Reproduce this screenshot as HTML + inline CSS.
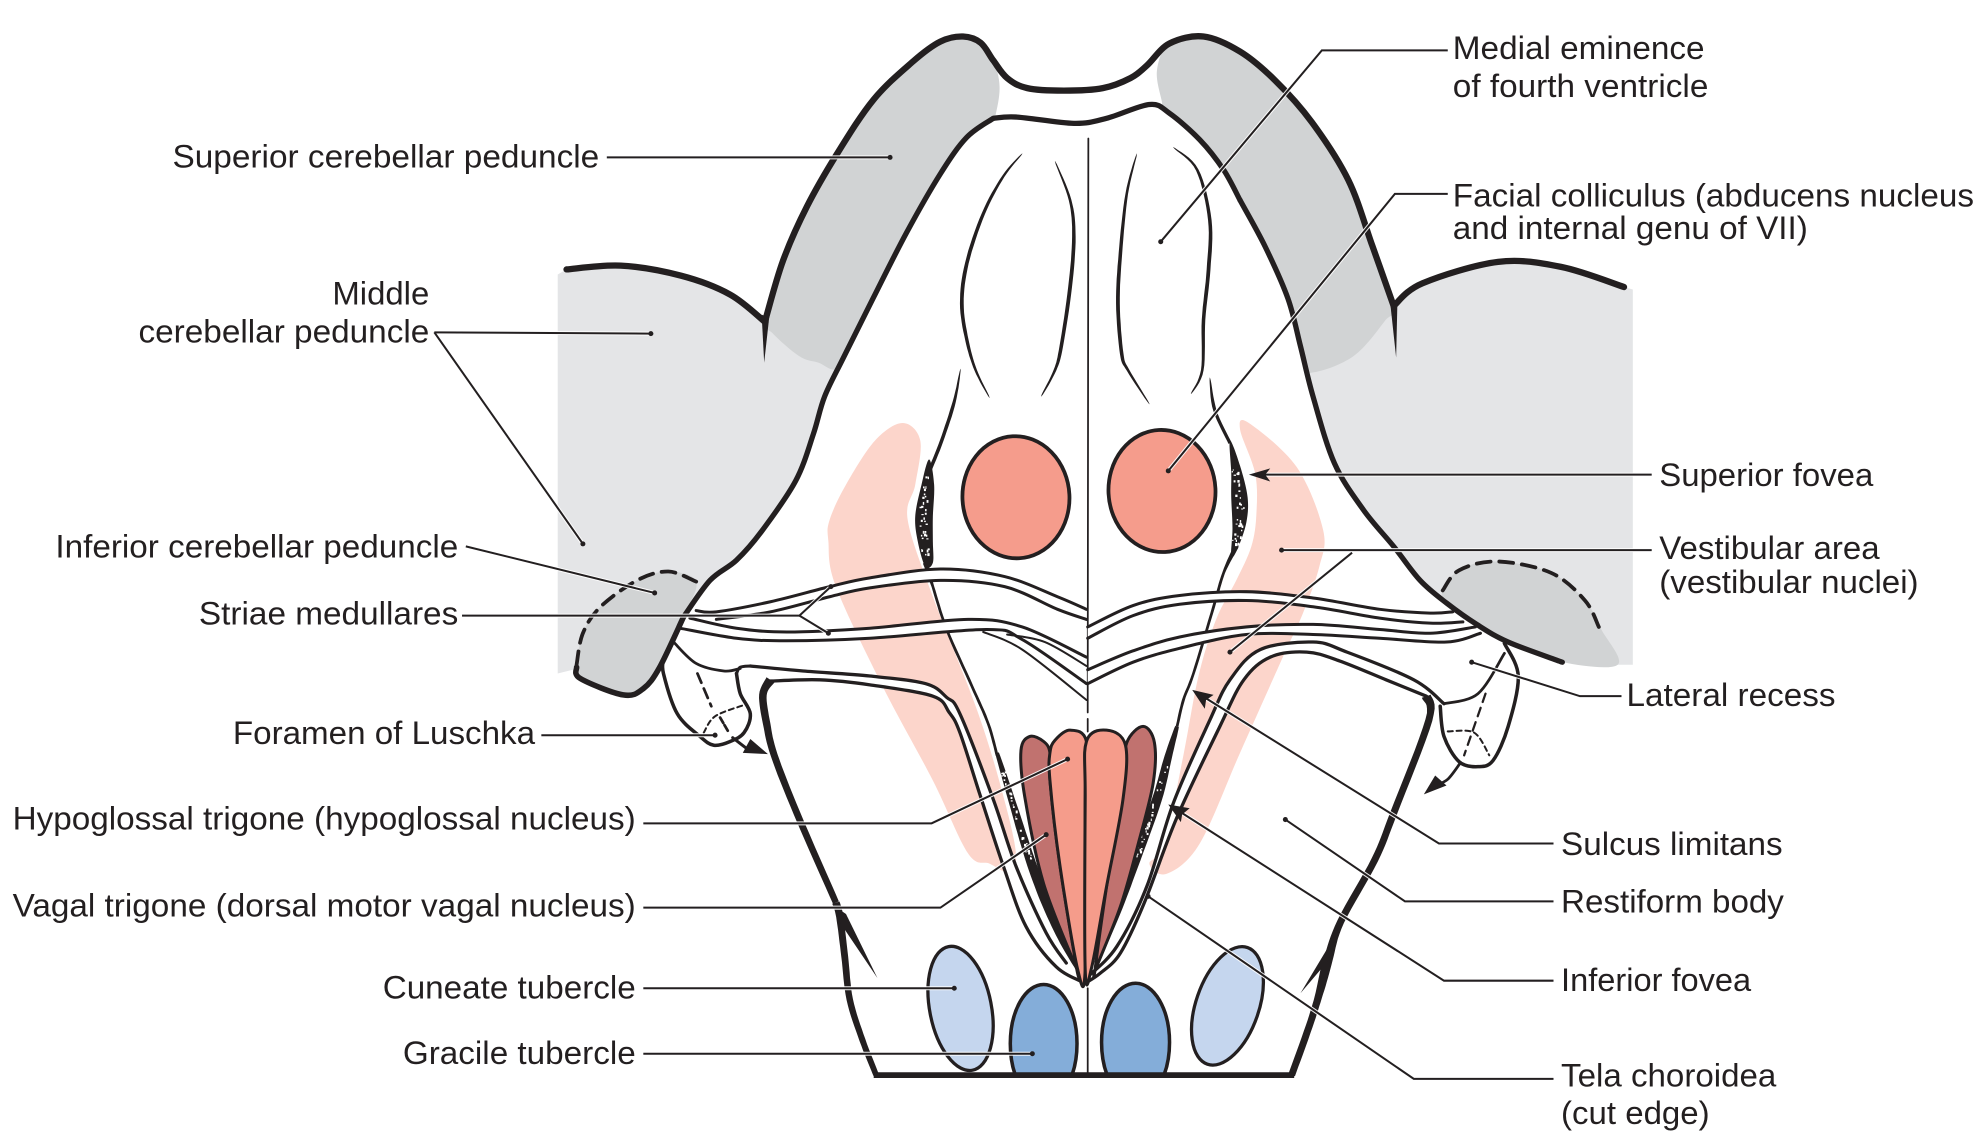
<!DOCTYPE html>
<html><head><meta charset="utf-8"><style>
html,body{margin:0;padding:0;background:#fff}
svg{display:block}
text{font-family:"Liberation Sans",sans-serif;font-size:26px;fill:#231f20}
</style></head><body>
<svg id="s" xmlns="http://www.w3.org/2000/svg" width="1974" height="1148" viewBox="0 0 1568 911.9">
<g id="art"></g>
<g>
<text x="1154" y="47" textLength="200" lengthAdjust="spacingAndGlyphs">Medial eminence</text>
<text x="1154" y="77" textLength="203" lengthAdjust="spacingAndGlyphs">of fourth ventricle</text>
<text x="1154" y="164" textLength="414" lengthAdjust="spacingAndGlyphs">Facial colliculus (abducens nucleus</text>
<text x="1154" y="190" textLength="282" lengthAdjust="spacingAndGlyphs">and internal genu of VII)</text>
<text x="137" y="133" textLength="339" lengthAdjust="spacingAndGlyphs">Superior cerebellar peduncle</text>
<text x="264" y="242" textLength="77" lengthAdjust="spacingAndGlyphs">Middle</text>
<text x="110" y="272" textLength="231" lengthAdjust="spacingAndGlyphs">cerebellar peduncle</text>
<text x="44" y="443" textLength="320" lengthAdjust="spacingAndGlyphs">Inferior cerebellar peduncle</text>
<text x="158" y="496" textLength="206" lengthAdjust="spacingAndGlyphs">Striae medullares</text>
<text x="185" y="591" textLength="240" lengthAdjust="spacingAndGlyphs">Foramen of Luschka</text>
<text x="10" y="659" textLength="495" lengthAdjust="spacingAndGlyphs">Hypoglossal trigone (hypoglossal nucleus)</text>
<text x="10" y="728" textLength="495" lengthAdjust="spacingAndGlyphs">Vagal trigone (dorsal motor vagal nucleus)</text>
<text x="304" y="793" textLength="201" lengthAdjust="spacingAndGlyphs">Cuneate tubercle</text>
<text x="320" y="845" textLength="185" lengthAdjust="spacingAndGlyphs">Gracile tubercle</text>
<text x="1318" y="386" textLength="170" lengthAdjust="spacingAndGlyphs">Superior fovea</text>
<text x="1318" y="444" textLength="175" lengthAdjust="spacingAndGlyphs">Vestibular area</text>
<text x="1318" y="471" textLength="206" lengthAdjust="spacingAndGlyphs">(vestibular nuclei)</text>
<text x="1292" y="561" textLength="166" lengthAdjust="spacingAndGlyphs">Lateral recess</text>
<text x="1240" y="679" textLength="176" lengthAdjust="spacingAndGlyphs">Sulcus limitans</text>
<text x="1240" y="725" textLength="177" lengthAdjust="spacingAndGlyphs">Restiform body</text>
<text x="1240" y="787" textLength="151" lengthAdjust="spacingAndGlyphs">Inferior fovea</text>
<text x="1240" y="863" textLength="171" lengthAdjust="spacingAndGlyphs">Tela choroidea</text>
<text x="1240" y="893" textLength="118" lengthAdjust="spacingAndGlyphs">(cut edge)</text>
</g>
</svg>
<script>
(function(){
var K='#231f20',out='';
function seg(p,closed){
  var n=p.length/2,d='';
  function P(i){ if(closed){i=(i+n)%n;} else {i=Math.max(0,Math.min(n-1,i));} return [p[2*i],p[2*i+1]]; }
  d='M'+p[0]+' '+p[1];
  var m=closed?n:n-1;
  for(var i=0;i<m;i++){
    var a=P(i-1),b=P(i),c=P(i+1),e=P(i+2);
    d+='C'+(b[0]+(c[0]-a[0])/6).toFixed(1)+' '+(b[1]+(c[1]-a[1])/6).toFixed(1)+' '+(c[0]-(e[0]-b[0])/6).toFixed(1)+' '+(c[1]-(e[1]-b[1])/6).toFixed(1)+' '+c[0]+' '+c[1];
  }
  return d+(closed?'Z':'');
}
function sample(p,st){
  st=st||8;var n=p.length/2,r=[];
  function P(i){i=Math.max(0,Math.min(n-1,i));return [p[2*i],p[2*i+1]];}
  for(var i=0;i<n-1;i++){
    var a=P(i-1),b=P(i),c=P(i+1),e=P(i+2);
    for(var j=0;j<st;j++){
      var t=j/st,t2=t*t,t3=t2*t;
      r.push([0.5*(2*b[0]+(c[0]-a[0])*t+(2*a[0]-5*b[0]+4*c[0]-e[0])*t2+(3*b[0]-a[0]-3*c[0]+e[0])*t3),
              0.5*(2*b[1]+(c[1]-a[1])*t+(2*a[1]-5*b[1]+4*c[1]-e[1])*t2+(3*b[1]-a[1]-3*c[1]+e[1])*t3)]);
    }
  }
  r.push(P(n-1));return r;
}
function pts2d(arr){return 'M'+arr.map(function(q){return q[0].toFixed(1)+' '+q[1].toFixed(1);}).join('L')+'Z';}
function ribbon(p,wf,c){
  var s=sample(p),l=[],r=[],N=s.length;
  for(var i=0;i<N;i++){
    var a=s[Math.max(0,i-1)],b=s[Math.min(N-1,i+1)],dx=b[0]-a[0],dy=b[1]-a[1],m=Math.sqrt(dx*dx+dy*dy)||1;
    var w=wf(i/(N-1))/2;
    l.push([s[i][0]-dy/m*w,s[i][1]+dx/m*w]);r.unshift([s[i][0]+dy/m*w,s[i][1]-dx/m*w]);
  }
  add('<path d="'+pts2d(l.concat(r))+'" fill="'+(c||K)+'"/>');
}
function both(w){return function(t){return w*Math.pow(Math.sin(Math.PI*t),0.55)+0.2;};}
function startT(w){return function(t){return w*Math.min(1,Math.pow(t*2.5,0.7))+0.2;};}
function add(s){out+=s;}
function fill(p,c){add('<path d="'+seg(p,true)+'" fill="'+c+'"/>');}
function line(p,w,extra){add('<path d="'+seg(p,false)+'" fill="none" stroke="'+K+'" stroke-width="'+w+'" stroke-linecap="round" stroke-linejoin="round" '+(extra||'')+'/>');}
function band(a,b,c){
  var sa=sample(a),sb=sample(b).reverse();
  add('<path d="'+pts2d(sa.concat(sb))+'" fill="'+(c||'#fff')+'"/>');
}
function poly(pts,c){add('<polygon points="'+pts+'" fill="'+c+'"/>');}
var seed=7;function rnd(){seed=(seed*16807)%2147483647;return seed/2147483647;}
function specks(p,n,sp){
  var s=sample(p,12);
  for(var i=0;i<n;i++){
    var q=s[Math.floor(rnd()*s.length)];
    add('<rect x="'+(q[0]+(rnd()-.5)*sp-.6).toFixed(1)+'" y="'+(q[1]+(rnd()-.5)*sp*.6-.6).toFixed(1)+'" width="'+(0.8+rnd()*1.1).toFixed(1)+'" height="'+(0.8+rnd()*1.6).toFixed(1)+'" fill="#fff"/>');
  }
}

var oL=[450,214,493,211,541,219,580,234,608,256];
var oTop=[608,254,622,207,641,164,665,122,694,79,725,49,747,33,765,29,779,34,789,48,800,62,816,70,845,72,876,70,898,62,911,52,929,34.5,956,29,985,41,1013,64,1042,97,1071,143,1090,195,1107,243];
var oR=[1107,243,1130,225,1190,208,1240,212,1290,228];
var bL=[789,94,768,109,747,138,720,185,694,236,670,284,655,315,646,345,632,382,605,422,585,445,564,461,543,490];
var bTop=[789,94,808,93,853,98,879,94,913,83,929,90,953,111,972,135,985,159];
var bR=[985,159,1005,196,1023,237,1033,275,1043,315,1060,368,1083,405,1107,434,1128,461,1149,479,1173,496,1198,510,1241,526];

// light grey
var sOL=sample(oL);
add('<path d="M443 218'+sOL.map(function(q){return 'L'+q[0].toFixed(1)+' '+q[1].toFixed(1);}).join('')+'L700 240L700 480L560 500L527 527L497 552L459 531L443 535Z" fill="#e4e5e7"/>');
add('<path d="M1297 230L1290 228L1240 212L1190 208L1130 225L1107 243L1000 240L1000 440L1198 510L1241 526L1285 528L1297 528Z" fill="#e4e5e7"/>');
// dark grey peduncles
fill([608,254,622,207,641,164,665,122,694,79,725,49,747,33,765,29,779,34,789,48,794,69,790,95,780,130,700,260,668,292,650,288,635,283,614,265],'#d1d3d4');
fill([919,56,929,34,956,29,985,41,1013,64,1042,97,1071,143,1090,195,1107,243,1100,255,1075,283,1042,296,1020,290,1000,200,960,130,925,88,923,81],'#d1d3d4');
// inferior cerebellar peduncles
fill([553,462,531,454,506,461,477,482,463,503,458,530,461,539,495,552,511,547,524,530,543,490],'#d1d3d4');
fill([1147,476,1159,453,1189,446,1232,455,1259,477,1272,500,1285,528,1241,526,1198,510],'#d1d3d4');
// body white
var bodyP=sample(bL).reverse().concat(sample(bTop),sample(bR),[[1206,540],[1200,620],[1026,854],[696,854],[527,560],[527,527]]);
add('<path d="'+pts2d(bodyP)+'" fill="#fff"/>');
// pink
fill([717,336,731,350,727,385,721,413,741,474,775,561,795,625,807,678,800,692,786,686,769,678,741,620,701,545,664,466,658,430,659,413,672,385,695,350],'#fcd5cb');
fill([992,336,985,341,997,376,998,408,994,434,982,461,966,492,952,537,940,600,925,670,913,686,927,694,953,670,985,598,1019,522,1035,487,1048,450,1051,421,1030,371],'#fcd5cb');
// red ovals
add('<ellipse cx="807" cy="395" rx="42.5" ry="48.5" fill="#f59c8c" stroke="'+K+'" stroke-width="3" transform="rotate(-3 807 395)"/>');
add('<ellipse cx="923" cy="390" rx="42.5" ry="48.5" fill="#f59c8c" stroke="'+K+'" stroke-width="3" transform="rotate(-3 923 390)"/>');
// blue ovals
add('<ellipse cx="763" cy="801" rx="24.5" ry="50" fill="#c5d6ee" stroke="'+K+'" stroke-width="2.6" transform="rotate(-11 763 801)"/>');
add('<ellipse cx="975" cy="799" rx="25" ry="49" fill="#c5d6ee" stroke="'+K+'" stroke-width="2.6" transform="rotate(19 975 799)"/>');
add('<clipPath id="c"><rect x="700" y="700" width="300" height="153"/></clipPath>');
add('<g clip-path="url(#c)"><ellipse cx="829" cy="829" rx="26.5" ry="47" fill="#84add9" stroke="'+K+'" stroke-width="2.8"/><ellipse cx="902" cy="828" rx="27" ry="47" fill="#84add9" stroke="'+K+'" stroke-width="2.8"/></g>');
// medial eminence curves
ribbon([812,122,797,140,781,170,768,209,764,241,768,270,775,294,786,316],both(2.8));
ribbon([838,128,850,159,853,188,850,228,843,275,838,294,827,315],both(2.8));
ribbon([903,122,895,154,890,201,888,241,891,281,896,294,913,321],both(2.8));
ribbon([932,117,951,135,961,175,960,214,956,254,955,294,946,313],both(2.8));
// median
line([864.5,110,864,556],1.4);
line([864,556,864,585],1.4,'stroke-dasharray="10 5" stroke-linecap="butt"');
line([864,785,864,852],1.4);
// sulci
ribbon([763,293,758,319,748,350,738,375],startT(2.6));
ribbon([735,447,741,466,752,500,772,545,785,575,792,600],function(t){return t<0.2?4-1.8*t*5:2.2;});
ribbon([961,300,965,326,977,352],startT(2.4));
ribbon([982,434,972,455,964,482,948,535,940,556,935,577],function(t){return t<0.2?4-1.8*t*5:2.2;});
// stipple lenses
fill([738,365,732,385,727,410,729,430,735,450,741,447,741,430,741,410,742,385],K);
specks([735,380,733,410,735,440],36,6);
fill([977,350,985,370,991,395,990,415,983,436,978,442,979,420,978,395,978,375],K);
specks([982,375,985,405,982,432],36,6);
// lower dark bands with specks
ribbon([792,598,805,640,818,682,830,715,843,745,855,768],function(t){return 3+4.5*Math.sin(Math.PI*t);});
specks([797,614,808,650,818,682],32,3.5);
ribbon([935,577,928,601,919,635,900,688,887,725,871,765],function(t){return 3+5*Math.sin(Math.PI*t);});
specks([926,610,915,645,903,680],28,4);
// striae
var s1=[553,485,569,486,612,478,659,466,691,459,747,452,798,458,840,474,863,484];
var s2=[569,492,612,486,659,474,691,467,747,461,798,466,840,484,863,492];
var s3=[548,491,585,499,625,502,691,499,769,492,812,498,863,522];
var s4=[540,499,585,507,625,509,691,507,784,500,812,508,863,543];
var r1=[864,498,900,481,937,473,990,470,1043,475,1096,484,1136,487,1154,486];
var r2=[864,507,900,489,937,480,990,477,1043,482,1096,491,1136,495,1162,494];
var r3=[864,532,900,517,937,506,990,498,1043,496,1096,500,1136,503,1172,498];
var r4=[864,543,900,526,937,515,990,504,1043,504,1096,507,1149,510,1176,503];
band(s1,s2);band(s3,s4);band(r1,r2);band(r3,r4);
[s1,s2,s3,s4,r1,r2,r3,r4].forEach(function(l){line(l,2.4);});
line([781,502,812,516,863,556],1.6);
line([800,504,830,510,863,529],1.6);
// floor double border
var la=[596,529,638,533,691,537,735,543,752,554,762.5,567,789,635,807,688,831,741,847,765];
var lb=[612,541,651,540,691,544,741,553,754,566,762.5,582,778,630,797,688,815,736,839,768,862,781];
var ra=[1147,559,1123,540,1070,518,1043,510,1001,516,977,540,961,572,932,638,911,704,887,752,864,776];
var rb=[1133,553,1101,540,1064,525,1038,518,1009,522,988,540,969,577,935,649,909,717,890,757,874,773,862,781];
band(la,lb);band(ra,rb);
line(la,2.6);line(lb,2.6);line(ra,2.6);line(rb,2.6);
line([596,529,588,530,585,535],2.4);
// columns
function col(p,c){add('<path d="'+seg(p,true)+'" fill="'+c+'" stroke="'+K+'" stroke-width="2.4" stroke-linejoin="round"/>');}
col([811,596,818,585,829,589,834,598,834,620,842,688,855,768,855,769,829,702,814,633],'#c1726f');
col([917,590,908,577,895,590,892,620,879,704,870,769,871,768,890,720,905,667,916,622],'#c1726f');
col([834,598,838,588,850,580,863,589,862,635,862,770,856,770,842,688,834,620],'#f59c8b');
col([863,589,879,580,894,592,892,635,879,704,867,769,862,770,862,635],'#f59c8b');
// outer outline
line(oL,5);line(oTop,5);line(oR,5);
poly('605,250 611,252 607,288','#231f20');poly('1104,238 1110,240 1109,284','#231f20');
line(bL,4.2);line(bTop,4.2);line(bR,4.2);
// ICP dashes & base
line([553,462,531,454,506,461,477,482,463,503,458,528],3,'stroke-dasharray="11 7" stroke-linecap="butt"');
line([458,530,461,539,495,552,511,547,524,530,543,490],4.4);
line([1146,469,1159,453,1189,446,1232,455,1259,477,1270,498],3,'stroke-dasharray="11 7"');
// lateral recess left
line([535,510,553,527,575,533,588,531],2.2);
line([585,535,588,551,596,567,591,582,580,589,567,592,556,585,538,567,527,535,527,524],2.8);
line([554,535,565,561],2.2,'stroke-dasharray="8 5"');
line([572,570,579,582],2.2,'stroke-dasharray="5 2"');
line([559,582,568,569,591,560],1.6,'stroke-dasharray="4 3"');
line([582,586,595,596],2.4);
poly('610,599 596,587 590,598','#231f20');
// lateral recess right
line([1195,511,1206,537,1198,577,1186,604,1174,609,1159,605,1147,585,1144,561],2.8);
line([1147,559,1174,551,1195,519],2.2);
line([1180,551,1163,600],1.8,'stroke-dasharray="7 5"');
line([1150,581,1171,582,1183,600],1.6,'stroke-dasharray="4 3"');
line([1160,606,1150,619,1140,624],2.2);
poly('1131,631 1140,616 1149,624','#231f20');
// lower body outline
ribbon([612,540,606,552,609,575,615,600,633,646,664,717],function(t){return t<0.12?7.5-10*t:6.3-1.2*t;});
ribbon([664,717,667,728,671,760,675,794,685,826,696,854],function(t){return 6-1.5*t;});
ribbon([1133,553,1135,572,1107,646,1092,683,1065,732,1055,762,1048,789,1040,815,1026,854],function(t){return t<0.1?7.5-15*t:5.5+2*Math.exp(-Math.pow((t-0.65)/0.09,2));});
add('<path d="M694 854H1028" stroke="'+K+'" stroke-width="4.6" fill="none"/>');
poly('666,722 672,726 697,777 668,734','#231f20');
poly('1060,744 1056,762 1033,789','#231f20');

// leaders
var L=[
[1150,40,1050,40,922,192],[1150,154,1108,154,928,374],[482,125,707,125],[345,264,517,265],[345,264,463,432],
[370,434,520,471],[367,489,635,489,660,466],[635,489,658,503],[430,584,568,584],
[511,654,740,654,848,603],[511,721,747,721,831,663],[511,785,758,785],[511,837,820,837],
[1312,377,1003,377],[1312,437,1018,437],[1074,439,977,518],[1288,553,1255,553,1169,526],
[1234,670,1143,670,952,551],[1234,716,1116,716,1021,651],[1234,779,1147,779,933,642],[1234,857,1123,857,912,712]];
function pl(a){return a.join(' ');}
L.forEach(function(a){add('<polyline points="'+pl(a)+'" fill="none" stroke="#fff" stroke-width="3.2" opacity=".9"/>');});
L.forEach(function(a){add('<polyline points="'+pl(a)+'" fill="none" stroke="'+K+'" stroke-width="1.6" stroke-linejoin="miter"/>');});
[[922,192],[928,374],[707,125],[517,265],[463,432],[520,471],[660,466],[658,503],[568,584],[848,603],[831,663],[758,785],[820,837],[1018,437],[977,518],[1169,526],[1021,651],[912,712]].forEach(function(d){add('<circle cx="'+d[0]+'" cy="'+d[1]+'" r="2" fill="'+K+'"/>');});
// arrowheads
poly('992,377 1009,372 1005,377 1009,382.5',K);
poly('947,548 964,552 958,556 957,563',K);
poly('928,639 945,642 939,647 938,653',K);

document.getElementById('art').innerHTML=out;
})();
</script>
</body></html>
